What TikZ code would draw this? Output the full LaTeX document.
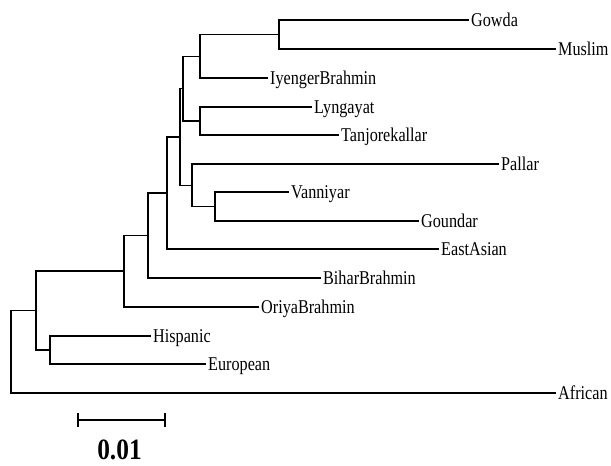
\documentclass[tikz,border=0pt]{standalone}
\usepackage{fontspec}
\setmainfont{Liberation Serif}
\newfontfamily\condserif[FakeStretch=0.83]{Liberation Serif}
\newfontfamily\condserifbar[FakeStretch=0.86]{Liberation Serif}
\begin{document}
\begin{tikzpicture}[x=1pt,y=-1pt,
  branch/.style={line width=1.3pt,line cap=rect},
  leaf/.style={anchor=west,inner sep=0pt,xshift=3pt,font=\condserif\fontsize{19.5}{19.5}\selectfont,text height=13pt,text depth=1pt},
  scalelabel/.style={anchor=base,inner sep=0pt,font=\condserifbar\fontsize{29.5}{29.5}\selectfont\bfseries}]
\useasboundingbox (0,0) rectangle (611,466);
% leaf ends
\coordinate (gowda) at (468,20);
\coordinate (muslim) at (555,49);
\coordinate (iyenger) at (267,78);
\coordinate (lyngayat) at (311,107);
\coordinate (tanjore) at (338,135);
\coordinate (pallar) at (498,164);
\coordinate (vanniyar) at (288,192);
\coordinate (goundar) at (418,221);
\coordinate (eastasian) at (438,249);
\coordinate (bihar) at (320,278);
\coordinate (oriya) at (258,307);
\coordinate (hispanic) at (150,336);
\coordinate (european) at (205,364);
\coordinate (african) at (555,393);
% internal nodes
\coordinate (gm) at (279,34.5);
\coordinate (gmi) at (200,56.25);
\coordinate (lt) at (200,121);
\coordinate (na) at (183,88.6);
\coordinate (vg) at (215,206.5);
\coordinate (pvg) at (192,185.25);
\coordinate (nb) at (180,136.9);
\coordinate (nc) at (167,193);
\coordinate (nd) at (148,235.5);
\coordinate (ne) at (124,271);
\coordinate (he) at (50,350);
\coordinate (nf) at (36,310.5);
\coordinate (root) at (11,351.75);
% branches
\draw[branch] (gm) |- (gowda);
\draw[branch] (gm) |- (muslim);
\draw[branch] (gmi) |- (gm);
\draw[branch] (gmi) |- (iyenger);
\draw[branch] (lt) |- (lyngayat);
\draw[branch] (lt) |- (tanjore);
\draw[branch] (na) |- (gmi);
\draw[branch] (na) |- (lt);
\draw[branch] (vg) |- (vanniyar);
\draw[branch] (vg) |- (goundar);
\draw[branch] (pvg) |- (pallar);
\draw[branch] (pvg) |- (vg);
\draw[branch] (nb) |- (na);
\draw[branch] (nb) |- (pvg);
\draw[branch] (nc) |- (nb);
\draw[branch] (nc) |- (eastasian);
\draw[branch] (nd) |- (nc);
\draw[branch] (nd) |- (bihar);
\draw[branch] (ne) |- (nd);
\draw[branch] (ne) |- (oriya);
\draw[branch] (he) |- (hispanic);
\draw[branch] (he) |- (european);
\draw[branch] (nf) |- (ne);
\draw[branch] (nf) |- (he);
\draw[branch] (root) |- (nf);
\draw[branch] (root) |- (african);
% labels
\node[leaf] (lgowda) at (gowda) {Gowda};
\node[leaf] (lmuslim) at (muslim) {Muslim};
\node[leaf] (liyenger) at (iyenger) {IyengerBrahmin};
\node[leaf] (llyngayat) at (lyngayat) {Lyngayat};
\node[leaf] (ltanjore) at (tanjore) {Tanjorekallar};
\node[leaf] (lpallar) at (pallar) {Pallar};
\node[leaf] (lvanniyar) at (vanniyar) {Vanniyar};
\node[leaf] (lgoundar) at (goundar) {Goundar};
\node[leaf] (leastasian) at (eastasian) {EastAsian};
\node[leaf] (lbihar) at (bihar) {BiharBrahmin};
\node[leaf] (loriya) at (oriya) {OriyaBrahmin};
\node[leaf] (lhispanic) at (hispanic) {Hispanic};
\node[leaf] (leuropean) at (european) {European};
\node[leaf] (lafrican) at (african) {African};
% scale bar
\coordinate (sba) at (78,420);
\coordinate (sbb) at (165,420);
\draw[line width=1.3pt] (sba) -- (sbb);
\draw[line width=1.3pt] ([yshift=-7pt]sba) -- ([yshift=7pt]sba);
\draw[line width=1.3pt] ([yshift=-7pt]sbb) -- ([yshift=7pt]sbb);
\node[scalelabel] (sblabel) at (119.5,459) {0.01};
\end{tikzpicture}
\end{document}
